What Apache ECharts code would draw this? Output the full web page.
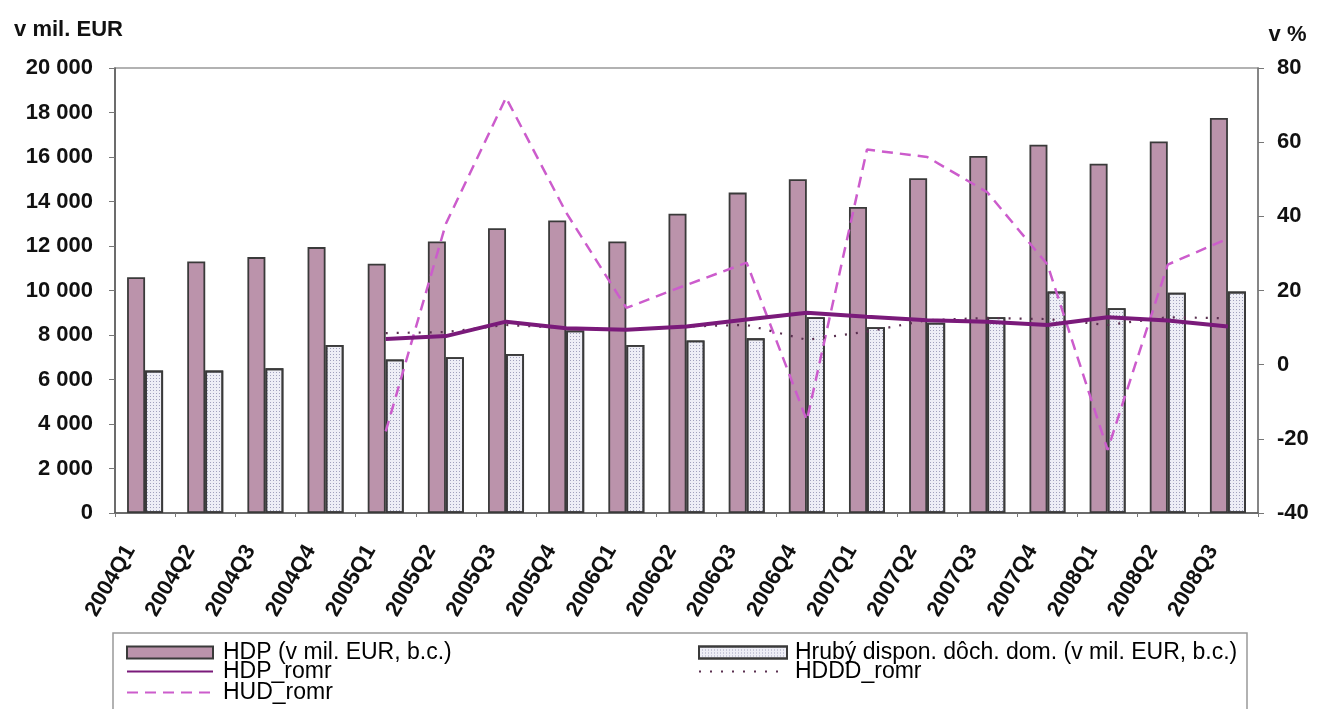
<!DOCTYPE html>
<html lang="sk" style="height: 100%">
<head>
  <meta charset="UTF-8" />
  <title>HDP a hrubý disponibilný dôchodok</title>
  <script src="https://cdn.jsdelivr.net/npm/echarts@6/dist/echarts.min.js"></script>
</head>
<body style="height: 100%; margin: 0; background: #fff">
  <div id="container" style="width: 1320px; height: 709px"></div>
  <script type="text/javascript">
    // štvrťroky
    var quarters = ["2004Q1", "2004Q2", "2004Q3", "2004Q4", "2005Q1", "2005Q2", "2005Q3", "2005Q4",
      "2006Q1", "2006Q2", "2006Q3", "2006Q4", "2007Q1", "2007Q2", "2007Q3", "2007Q4",
      "2008Q1", "2008Q2", "2008Q3"];

    // v mil. EUR (ľavá os)
    var hdp = [10600, 11300, 11500, 11950, 11200, 12200, 12800, 13150, 12200, 13450, 14400, 15000,
      13750, 15050, 16050, 16550, 15700, 16700, 17750];
    var hddd = [6400, 6400, 6500, 7550, 6900, 7000, 7150, 8200, 7550, 7750, 7850, 8800,
      8350, 8550, 8800, 9950, 9200, 9900, 9950];

    // v % (pravá os)
    var hdpRomr = ['-', '-', '-', '-', 6.9, 7.7, 11.6, 9.8, 9.4, 10.3, 12.2, 14.0,
      12.9, 12.0, 11.6, 10.7, 12.8, 11.9, 10.3];
    var hudRomr = ['-', '-', '-', '-', -18, 38, 72, 41, 15.3, 21.5, 27.5, -15,
      58, 56, 46.5, 27, -23, 27, 34];
    var hdddRomr = ['-', '-', '-', '-', 8.5, 8.8, 10.7, 9.9, 9.4, 10.3, 10.7, 6.7,
      8.9, 12.0, 12.6, 12.3, 10.7, 12.8, 12.5];

    var leftTicks = { min: 0, max: 20000, interval: 2000 };
    var rightTicks = { min: -40, max: 80, interval: 20 };

    var FONT = "'Liberation Sans', Arial, sans-serif";

    function spaced(v) {
      return String(v).replace(/\B(?=(\d{3})+(?!\d))/g, " ");
    }

    var myChart = echarts.init(document.getElementById("container"), null, { renderer: "canvas" });

    // legenda - každý riadok zvlášť, aby sa nezalamovala
    function legendRow(item, left, top, width, gap) {
      return {
        orient: "vertical", left: left, top: top, padding: 0,
        itemWidth: width, itemHeight: 12, itemGap: 0,
        textStyle: { fontSize: 23, color: "#000", lineHeight: 20, padding: [0, 0, 0, gap] },
        data: [item]
      };
    }
    var noDot = { opacity: 0 };

    var option = {
      animation: false,
      backgroundColor: "#fff",
      textStyle: { fontFamily: FONT },
      grid: {
        left: 115, right: 62, top: 68, bottom: 196,
        show: true, borderColor: "#999", borderWidth: 1.5
      },
      legend: [
        legendRow({ name: "HDP (v mil. EUR, b.c.)", icon: "rect" }, 126, 641, 86, 5),
        legendRow({ name: "HDP_romr", itemStyle: noDot }, 126, 660, 86, 5),
        legendRow({ name: "HUD_romr", itemStyle: noDot }, 126, 681, 86, 5),
        legendRow({ name: "Hrubý dispon. dôch. dom. (v mil. EUR, b.c.)", icon: "rect" }, 698, 641, 88, 3),
        legendRow({ name: "HDDD_romr", itemStyle: noDot }, 698, 660, 88, 3)
      ],
      graphic: [{
        type: "rect",
        shape: { x: 113, y: 633, width: 1134, height: 100 },
        style: { fill: "none", stroke: "#999", lineWidth: 1.5 },
        silent: true
      }],
      xAxis: {
        type: "category",
        data: quarters,
        axisLine: { lineStyle: { color: "#555", width: 1.5 } },
        axisTick: { show: true, length: 4, lineStyle: { color: "#777" } },
        axisLabel: {
          rotate: 60, margin: 8, fontSize: 22, fontWeight: "bold", color: "#111",
          padding: [0, 30, 0, 0]
        }
      },
      yAxis: [
        {
          type: "value",
          min: leftTicks.min, max: leftTicks.max, interval: leftTicks.interval,
          name: "v mil. EUR",
          nameLocation: "end",
          nameGap: 27,
          nameTextStyle: { fontSize: 22, fontWeight: "bold", color: "#111", align: "center", padding: [0, 93, 0, 0] },
          splitLine: { show: false },
          axisLine: { show: true, lineStyle: { color: "#555", width: 1.5 } },
          axisTick: { show: true, length: 6, lineStyle: { color: "#777" } },
          axisLabel: { margin: 22, fontSize: 22, fontWeight: "bold", color: "#111", formatter: spaced }
        },
        {
          type: "value",
          min: rightTicks.min, max: rightTicks.max, interval: rightTicks.interval,
          name: "v %",
          nameLocation: "end",
          nameGap: 22,
          nameTextStyle: { fontSize: 22, fontWeight: "bold", color: "#111", align: "center", padding: [0, 0, 0, 59] },
          splitLine: { show: false },
          axisLine: { show: true, lineStyle: { color: "#777", width: 1.5 } },
          axisTick: { show: true, length: 6, lineStyle: { color: "#777" } },
          axisLabel: { margin: 19, fontSize: 22, fontWeight: "bold", color: "#111" }
        }
      ],
      series: [
        {
          name: "HDP (v mil. EUR, b.c.)",
          type: "bar",
          data: hdp,
          barWidth: 18,
          barGap: "0%",
          itemStyle: { color: "#bb93ab", borderColor: "#3a3a3a", borderWidth: 1.8 }
        },
        {
          name: "Hrubý dispon. dôch. dom. (v mil. EUR, b.c.)",
          type: "bar",
          data: hddd,
          barWidth: 18,
          barGap: "0%",
          itemStyle: {
            color: "#eeeef6", borderColor: "#3a3a3a", borderWidth: 1.8,
            decal: {
              symbol: "rect", symbolSize: 1, color: "rgba(110,110,150,0.6)",
              dashArrayX: [1, 2], dashArrayY: [1, 2]
            }
          }
        },
        {
          name: "HDP_romr",
          type: "line",
          yAxisIndex: 1,
          data: hdpRomr,
          symbol: "none",
          z: 5,
          lineStyle: { color: "#7a1a7a", width: 4 },
          itemStyle: { color: "#7a1a7a" }
        },
        {
          name: "HUD_romr",
          type: "line",
          yAxisIndex: 1,
          data: hudRomr,
          symbol: "none",
          z: 4,
          lineStyle: { color: "#cc5ccc", width: 2.5, type: [11, 7] },
          itemStyle: { color: "#cc5ccc" }
        },
        {
          name: "HDDD_romr",
          type: "line",
          yAxisIndex: 1,
          data: hdddRomr,
          symbol: "none",
          z: 4,
          lineStyle: { color: "#5a3050", width: 2.2, type: [2, 9] },
          itemStyle: { color: "#5a3050" }
        }
      ]
    };

    myChart.setOption(option);
    window.addEventListener("resize", myChart.resize);
  </script>
</body>
</html>
